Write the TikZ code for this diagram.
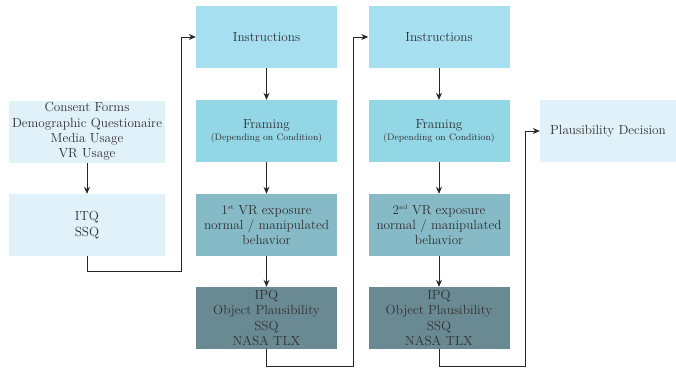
\documentclass[tikz,border=0pt]{standalone}
\usetikzlibrary{arrows.meta}
\definecolor{cA}{HTML}{E0F1F9}
\definecolor{cB}{HTML}{A6DFF0}
\definecolor{cC}{HTML}{93D7E7}
\definecolor{cD}{HTML}{86BAC6}
\definecolor{cE}{HTML}{6A8A93}
\definecolor{txt}{HTML}{303030}
\newcommand{\mysup}[1]{\textsuperscript{\fontsize{6.5}{7}\selectfont #1}}
\begin{document}
\begin{tikzpicture}[x=1pt,y=-1pt,
  box/.style={minimum height=62pt,inner sep=0pt,align=center,text=txt,font=\fontsize{13.2}{15.4}\selectfont},
  lbox/.style={box,fill=cA,minimum width=156pt},
  cbox/.style={box,minimum width=141pt},
  conn/.style={draw=black!85,line width=0.8pt,-{Stealth[length=7pt,width=6pt]}}]
\useasboundingbox (0,0) rectangle (676,367);
\node[lbox] (cons) at (87,131.5) {Consent Forms\\Demographic Questionaire\\Media Usage\\VR Usage};
\node[lbox] (itq) at (87,225) {ITQ\\SSQ};
\node[cbox,fill=cB] (ins1) at (266.5,37) {Instructions};
\node[cbox,fill=cC] (fr1) at (266.5,131) {Framing\\[-3pt]{\fontsize{9.4}{10}\selectfont(Depending on Condition)}};
\node[cbox,fill=cD] (vr1) at (266.5,225) {1\mysup{st} VR exposure\\normal / manipulated\\behavior};
\node[cbox,fill=cE] (ipq1) at (266.5,318) {IPQ\\Object Plausibility\\SSQ\\NASA TLX};
\node[cbox,fill=cB] (ins2) at (439,37) {Instructions};
\node[cbox,fill=cC] (fr2) at (439,131) {Framing\\[-3pt]{\fontsize{9.4}{10}\selectfont(Depending on Condition)}};
\node[cbox,fill=cD] (vr2) at (439,225) {2\mysup{nd} VR exposure\\normal / manipulated\\behavior};
\node[cbox,fill=cE] (ipq2) at (439,318) {IPQ\\Object Plausibility\\SSQ\\NASA TLX};
\node[box,fill=cA,minimum width=136pt] (pd) at (608,131) {Plausibility Decision};
\coordinate (k1) at (181,271);
\coordinate (k2) at (353,366);
\coordinate (k3) at (525,366);
\draw[conn] (cons) -- (itq);
\draw[conn] (itq.south) |- (k1) |- (ins1.west);
\draw[conn] (ins1) -- (fr1);
\draw[conn] (fr1) -- (vr1);
\draw[conn] (vr1) -- (ipq1);
\draw[conn] (ipq1.south) |- (k2) |- (ins2.west);
\draw[conn] (ins2) -- (fr2);
\draw[conn] (fr2) -- (vr2);
\draw[conn] (vr2) -- (ipq2);
\draw[conn] (ipq2.south) |- (k3) |- (pd.west);
\end{tikzpicture}
\end{document}
